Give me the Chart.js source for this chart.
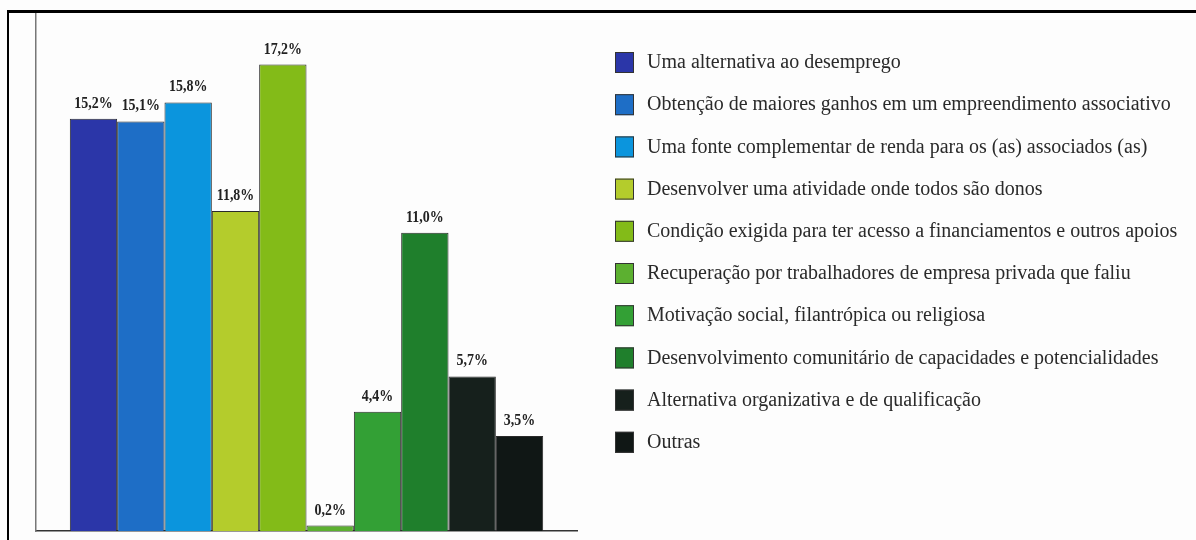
<!DOCTYPE html>
<html>
<head>
<meta charset="utf-8">
<script src="https://cdn.jsdelivr.net/npm/chart.js@4/dist/chart.umd.min.js"></script>
<style>
  html, body { margin: 0; padding: 0; background: #fdfdfd; }
  #wrap { position: relative; width: 1196px; height: 540px; overflow: hidden; }
  #frame { position: absolute; left: 7px; top: 10px; width: 1300px; height: 600px;
           border-top: 3px solid #000; border-left: 2px solid #000; pointer-events: none; }
  canvas { position: absolute; left: 0; top: 0; }
</style>
</head>
<body>
<div id="wrap">
  <canvas id="chart" width="1196" height="540"></canvas>
  <div id="frame"></div>
</div>
<script>
const motivos = [
  'Uma alternativa ao desemprego',
  'Obtenção de maiores ganhos em um empreendimento associativo',
  'Uma fonte complementar de renda para os (as) associados (as)',
  'Desenvolver uma atividade onde todos são donos',
  'Condição exigida para ter acesso a financiamentos e outros apoios',
  'Recuperação por trabalhadores de empresa privada que faliu',
  'Motivação social, filantrópica ou religiosa',
  'Desenvolvimento comunitário de capacidades e potencialidades',
  'Alternativa organizativa e de qualificação',
  'Outras'
];
const percentuais = [15.2, 15.1, 15.8, 11.8, 17.2, 0.2, 4.4, 11.0, 5.7, 3.5];
const cores = ['#2b36a8', '#1e6ec6', '#0b95dd', '#b4cc2c', '#83bb18',
               '#5cb030', '#33a035', '#1f7f2c', '#16201c', '#101715'];

const fmt = v => v.toFixed(1).replace('.', ',') + '%';

// rótulos de valor acima das barras (negrito condensado)
const valueLabels = {
  id: 'valueLabels',
  afterDatasetsDraw(chart) {
    const ctx = chart.ctx;
    chart.data.datasets.forEach((ds, i) => {
      const bar = chart.getDatasetMeta(i).data[0];
      ctx.save();
      ctx.translate(bar.x, bar.y - 11);
      ctx.scale(0.82, 1);
      ctx.font = 'bold 17px "Liberation Serif", serif';
      ctx.fillStyle = '#222';
      ctx.textAlign = 'center';
      ctx.textBaseline = 'alphabetic';
      ctx.fillText(fmt(ds.data[0]), 0, 0);
      ctx.restore();
    });
  }
};

// legenda à direita
const sideLegend = {
  id: 'sideLegend',
  afterDraw(chart) {
    const ctx = chart.ctx;
    const x0 = 615, y0 = 62, step = 42.2;
    ctx.save();
    ctx.font = '20px "Liberation Serif", serif';
    ctx.textBaseline = 'middle';
    motivos.forEach((m, i) => {
      const cy = y0 + i * step;
      ctx.fillStyle = cores[i];
      ctx.fillRect(x0, cy - 10, 19, 21);
      ctx.strokeStyle = '#333';
      ctx.lineWidth = 1;
      ctx.strokeRect(x0 + 0.5, cy - 9.5, 18, 20);
      ctx.fillStyle = '#2a2a2a';
      ctx.fillText(m, x0 + 32, cy + 1);
    });
    ctx.restore();
  }
};

new Chart(document.getElementById('chart'), {
  type: 'bar',
  data: {
    labels: [''],
    datasets: motivos.map((m, i) => ({
      label: m,
      data: [percentuais[i]],
      backgroundColor: cores[i],
      borderColor: '#2a2a2a',
      borderWidth: 1,
      barPercentage: 1,
      categoryPercentage: 0.875
    }))
  },
  options: {
    responsive: false,
    animation: false,
    layout: { padding: { left: 28, right: 619, top: 13, bottom: 1 } },
    plugins: { legend: { display: false }, tooltip: { enabled: false } },
    scales: {
      x: {
        grid: { display: false },
        ticks: { display: false },
        border: { display: true, color: '#333', width: 1.5 }
      },
      y: {
        min: 0,
        max: 19.1,
        grid: { display: false },
        ticks: { display: false },
        border: { display: true, color: '#777', width: 1.5 }
      }
    }
  },
  plugins: [valueLabels, sideLegend]
});
</script>
</body>
</html>
